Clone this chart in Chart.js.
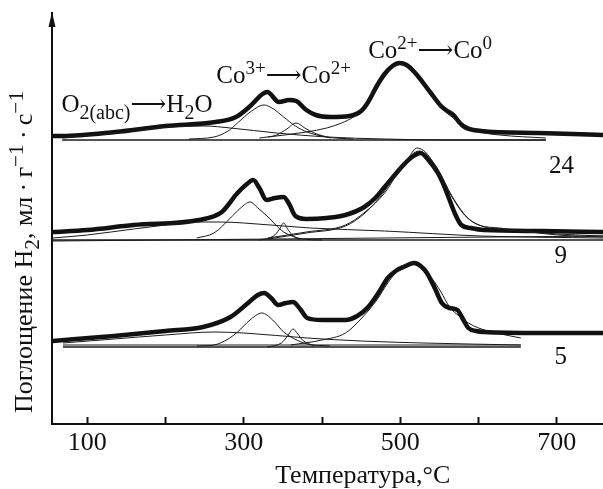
<!DOCTYPE html>
<html>
<head>
<meta charset="utf-8">
<script src="https://cdn.jsdelivr.net/npm/chart.js@4.4.1/dist/chart.umd.min.js"></script>
<style>
html,body{margin:0;padding:0;background:#fff;overflow:hidden;}
canvas{display:block;}
</style>
</head>
<body>
<canvas id="c" width="603" height="489"></canvas>
<script>
// ---- axis / labels ----
const xTickValues = [100, 200, 300, 400, 500, 600, 700];
const xLabeledTicks = [100, 300, 500, 700];
const sampleLabels = ['24', '9', '5'];
const xTitle = 'Температура,°C';

// ---- profile "24" (top) : [T, signal] ----
const topTotal = [[56,288],[68,288],[136,292],[200,298],[264,302],[290,307],[307,317],[324,330],[330,332],[345,322],[358,324],[367,323],[380,314],[392,309],[411,307],[435,308],[450,313],[459,322],[470,338],[480,350],[490,358],[499,361],[508,359],[518,352],[539,331],[552,318],[560,313],[568,309],[575,302],[582,297],[603,293],[676,291],[759,289]];
const topBase = [[68,284],[686,284]];
const topO2 = [[68,286],[134,291],[180,295],[219,298],[250,298],[283,296],[342,291],[406,287],[480,285],[560,284],[686,284]];
const topCo3 = [[230,285],[262,287],[280,293],[292,301],[310,313],[326,319],[338,315],[351,307],[366,298],[381,292],[406,287],[440,285]];
const topSmall = [[320,286],[342,289],[355,295],[367,301],[378,296],[390,291],[411,286]];
const topCo2 = [[331,287],[380,292],[406,296],[425,301],[440,307],[450,314],[459,324],[470,338],[480,349],[490,357],[499,360],[508,358],[518,352],[530,341],[539,331],[548,321],[558,312],[568,306],[578,301],[603,292],[627,289],[686,286]];

// ---- profile "9" (middle) ----
const midTotal = [[56,192],[100,194],[159,199],[243,204],[272,212],[292,231],[304,240],[312,244],[320,236],[329,224],[340,226],[351,227],[358,220],[366,208],[380,205],[406,206],[430,209],[454,217],[468,226],[480,237],[494,250],[504,259],[515,267],[526,271],[537,263],[548,251],[556,238],[563,224],[570,210],[578,199],[590,196],[607,194],[680,193],[759,192]];
const midBaseA = [[56,184],[759,184]];
const midBaseB = [[56,183],[759,188]];
const midO2 = [[56,186],[100,189],[159,195],[200,199],[231,202],[270,202],[300,201],[385,196],[480,193],[603,188],[759,186]];
const midCo3 = [[240,186],[262,191],[283,206],[296,216],[308,222],[318,216],[331,207],[341,199],[351,192],[376,185],[400,184]];
const midSmall = [[320,184],[338,188],[345,194],[351,201],[356,195],[362,189],[372,184]];
const midCo2A = [[331,186],[380,192],[430,199],[455,212],[480,231],[499,254],[512,268],[521,276],[532,272],[544,259],[563,231],[582,209],[600,199],[627,196],[701,189],[759,187]];
const midCo2B = [[331,185],[380,191],[430,198],[455,211],[480,233],[499,256],[514,269],[524,273],[535,268],[548,255],[566,228],[585,207],[604,198],[640,194],[701,190],[759,188]];

// ---- profile "5" (bottom) ----
const botTotal = [[56,83],[134,88],[200,93],[248,97],[283,107],[307,122],[318,129],[326,131],[335,126],[344,119],[354,121],[363,122],[372,115],[381,106],[400,104],[430,104],[445,108],[459,117],[472,131],[484,146],[494,153],[504,157],[518,161],[526,158],[534,151],[544,136],[553,121],[563,116],[573,114],[580,105],[587,96],[597,93],[607,92],[680,91],[759,91]];
const botBaseA = [[69,77],[654,77]];
const botBaseB = [[69,79],[654,79]];
const botO2 = [[69,81],[134,85],[200,89],[262,92],[300,91],[381,86],[450,83],[529,81],[654,79]];
const botCo3 = [[240,78],[262,79],[280,85],[292,92],[308,104],[323,111],[337,104],[351,92],[365,85],[381,80],[410,78]];
const botSmall = [[330,77],[348,81],[356,88],[363,95],[369,90],[375,84],[390,78]];
const botCo2 = [[360,79],[400,84],[430,91],[452,107],[470,124],[484,141],[494,151],[505,158],[516,161],[528,156],[539,147],[552,132],[563,117],[575,108],[587,101],[600,96],[617,92],[654,86]];

// label anchors in data space [T, signal]
const labelO2 = [67, 312];
const labelCo3 = [265, 341];
const labelCo2 = [459, 366];
const sampleLabelPos = [[706, 258], [705, 168], [705, 67]];

const FAM = '"Liberation Serif","Times New Roman","DejaVu Serif","DejaVu Sans",serif';

const toPts = arr => arr.map(p => ({x: p[0], y: p[1]}));
const thin = (arr, w) => ({data: toPts(arr), borderColor: '#1a1a1a', borderWidth: w || 1, pointRadius: 0, fill: false, cubicInterpolationMode: 'monotone', tension: 0.4});
const thick = arr => ({data: toPts(arr), borderColor: '#111', borderWidth: 4.5, pointRadius: 0, fill: false, cubicInterpolationMode: 'monotone', tension: 0.4, borderJoinStyle: 'round', borderCapStyle: 'round'});

const datasets = [
  thin(topBase, 1.5), thin(topO2), thin(topCo3), thin(topSmall), thin(topCo2),
  thin(midBaseA, 1.3), thin(midBaseB), thin(midO2), thin(midCo3), thin(midSmall), thin(midCo2A), thin(midCo2B),
  thin(botBaseA, 1.5), thin(botBaseB), thin(botO2), thin(botCo3), thin(botSmall), thin(botCo2),
  thick(topTotal), thick(midTotal), thick(botTotal)
];

function drawRich(ctx, segs, x, y, size, align, small) {
  const k = small || 0.76;
  let w = 0;
  segs.forEach(s => {
    const fs = s.s ? size * k : size;
    ctx.font = fs + 'px ' + FAM;
    s.w = ctx.measureText(s.t).width;
    w += s.w;
  });
  let cx = align === 'center' ? x - w / 2 : x;
  segs.forEach(s => {
    const fs = s.s ? size * k : size;
    ctx.font = fs + 'px ' + FAM;
    const dy = s.s === 'sub' ? size * 0.27 : (s.s === 'sup' ? -size * 0.36 : 0);
    ctx.fillText(s.t, cx, y + dy);
    cx += s.w;
  });
}

const annot = {
  id: 'annot',
  afterDraw(chart) {
    const ctx = chart.ctx, xs = chart.scales.x, ys = chart.scales.y, ca = chart.chartArea;
    ctx.save();
    ctx.fillStyle = '#111';
    // y axis arrow head
    ctx.beginPath();
    ctx.moveTo(ca.left, ca.top - 1);
    ctx.lineTo(ca.left - 3.5, ca.top + 14);
    ctx.lineTo(ca.left + 3.5, ca.top + 14);
    ctx.closePath();
    ctx.fill();
    ctx.textBaseline = 'alphabetic';
    ctx.textAlign = 'left';
    const px = p => [xs.getPixelForValue(p[0]), ys.getPixelForValue(p[1])];
    let p = px(labelO2);
    drawRich(ctx, [{t:'O'},{t:'2(abc)',s:'sub'},{t:'⟶'},{t:'H'},{t:'2',s:'sub'},{t:'O'}], p[0], p[1], 25, 'left', 0.8);
    p = px(labelCo3);
    drawRich(ctx, [{t:'Co'},{t:'3+',s:'sup'},{t:'⟶'},{t:'Co'},{t:'2+',s:'sup'}], p[0], p[1], 25, 'left');
    p = px(labelCo2);
    drawRich(ctx, [{t:'Co'},{t:'2+',s:'sup'},{t:'⟶'},{t:'Co'},{t:'0',s:'sup'}], p[0], p[1], 25, 'left');
    // sample numbers
    ctx.font = '25px ' + FAM;
    ctx.textAlign = 'center';
    ctx.textBaseline = 'middle';
    sampleLabels.forEach((s, i) => {
      const q = px(sampleLabelPos[i]);
      ctx.fillText(s, q[0], q[1]);
    });
    // x title
    ctx.textBaseline = 'alphabetic';
    ctx.font = '26px ' + FAM;
    ctx.fillText(xTitle, xs.getPixelForValue(452), ca.bottom + 59);
    // y title (rotated)
    ctx.translate(32, ca.bottom - 172);
    ctx.rotate(-Math.PI / 2);
    ctx.textAlign = 'left';
    drawRich(ctx, [{t:'Поглощение H'},{t:'2',s:'sub'},{t:', мл\u2009·\u2009г'},{t:'−1',s:'sup'},{t:'\u2009·\u2009с'},{t:'−1',s:'sup'}], 0, 0, 26, 'center', 0.82);
    ctx.restore();
  }
};

new Chart(document.getElementById('c'), {
  type: 'line',
  data: { datasets },
  options: {
    responsive: false,
    animation: false,
    events: [],
    layout: { padding: { left: 52, top: 13, right: 0, bottom: 0 } },
    plugins: { legend: { display: false }, tooltip: { enabled: false } },
    scales: {
      x: {
        type: 'linear',
        min: 55, max: 759,
        afterBuildTicks: s => { s.ticks = xTickValues.map(v => ({ value: v })); },
        afterFit: s => { s.height = 65; s.paddingLeft = 0; s.paddingRight = 0; },
        grid: { display: true, drawOnChartArea: false, drawTicks: true, tickLength: -7, tickColor: '#111', tickWidth: 2 },
        border: { display: true, color: '#111', width: 2 },
        ticks: {
          autoSkip: false, maxRotation: 0, padding: 11,
          color: '#111', font: { family: FAM, size: 26 },
          callback: v => xLabeledTicks.includes(v) ? String(v) : ''
        }
      },
      y: {
        type: 'linear',
        min: 0, max: 411,
        afterFit: s => { s.width = 0; },
        grid: { display: false, drawTicks: false },
        border: { display: true, color: '#111', width: 2 },
        ticks: { display: false }
      }
    }
  },
  plugins: [annot]
});
</script>
</body>
</html>
